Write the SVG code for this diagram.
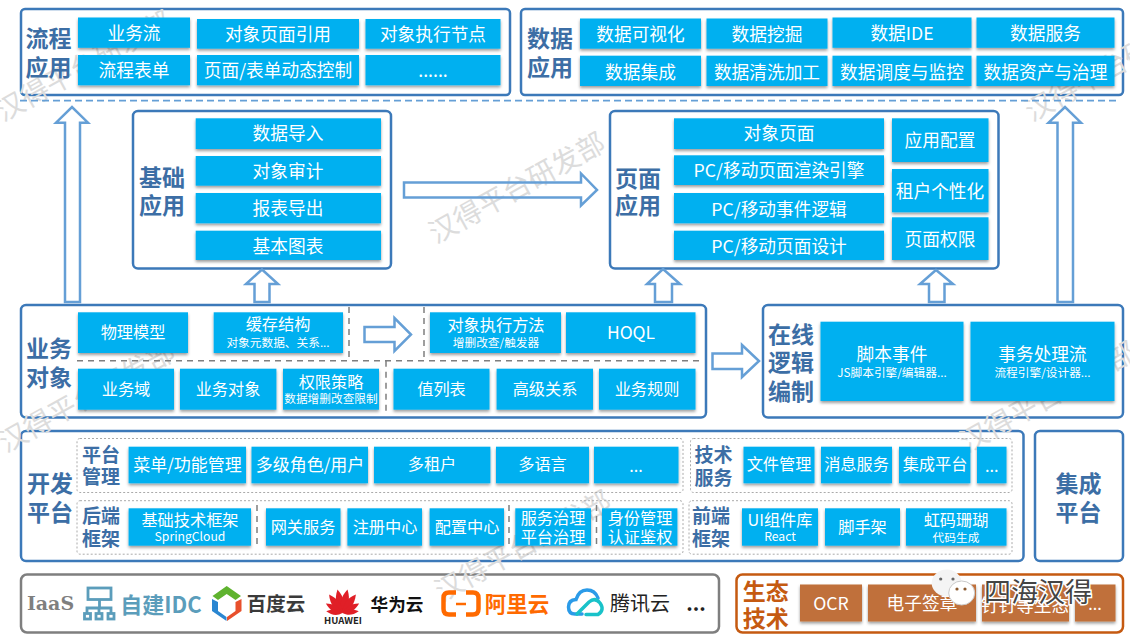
<svg xmlns="http://www.w3.org/2000/svg" xmlns:xlink="http://www.w3.org/1999/xlink" width="1130" height="640" viewBox="0 0 1130 640">
<defs>
<filter id="sh" x="-10%" y="-15%" width="120%" height="135%"><feDropShadow dx="0" dy="2" stdDeviation="1.6" flood-color="#000" flood-opacity="0.38"/></filter>
<path id="petal" d="M0 0C-5 -7 -5.500 -15 0 -24C5 -15 5 -7 0 0Z" fill="#e01f27"/>
</defs>
<style>
text{font-family:"Noto Sans CJK SC","Noto Sans",sans-serif;text-anchor:middle;dominant-baseline:central}
.p{fill:#fff;stroke:#3c79b9;stroke-width:2.5}
.b{fill:#00b0f0;filter:url(#sh)}
.o{fill:#c0703a;filter:url(#sh)}
.t,.m,.s,.l,.l2{transform:translateY(-1px)}
.t{fill:#fff;font-size:17.7px}
.m{fill:#fff;font-size:16.2px}
.s{fill:#fff;font-size:11.7px}
.la{font-size:12.2px}
.d{dominant-baseline:alphabetic}
.l{fill:#3c6ea5;font-size:23px;font-weight:700}
.l2{fill:#3c6ea5;font-size:19px;font-weight:700}
.a{fill:none;stroke:#659fd6;stroke-width:2.5}
.dash{fill:none;stroke:#7f7f7f;stroke-width:1.5;stroke-dasharray:6 5}
.sub{fill:none;stroke:#aaa;stroke-width:1;stroke-dasharray:2 2}
.wm{fill:#dcdcdc;font-size:28px}
</style>
<rect width="1130" height="640" fill="#fff"/>
<g id="panels">
<rect class="p" x="21" y="9" width="489" height="86" rx="4"/>
<rect class="p" x="521" y="9" width="602" height="86" rx="4"/>
<rect class="p" x="133" y="111" width="258" height="157.500" rx="5"/>
<rect class="p" x="610" y="111" width="388.500" height="157.500" rx="5"/>
<rect class="p" x="21" y="305" width="685" height="112.500" rx="5"/>
<rect class="p" x="763" y="305" width="360" height="112.500" rx="5"/>
<rect class="p" x="21" y="431" width="1002.500" height="130" rx="5"/>
<rect class="p" x="1035" y="431" width="88" height="130" rx="5"/>
<rect x="21" y="574.500" width="698" height="58" rx="6" fill="#fff" stroke="#7f7f7f" stroke-width="2.500"/>
<rect x="736.500" y="574.500" width="386.500" height="58" rx="6" fill="#fff" stroke="#c55a11" stroke-width="2.500"/>
</g>
<g id="watermarks">
<text class="wm" transform="translate(83 64) rotate(-29)">汉得平台研发部</text>
<text class="wm" transform="translate(516 186) rotate(-29)">汉得平台研发部</text>
<text class="wm" transform="translate(86 395) rotate(-29)">汉得平台研发部</text>
<text class="wm" transform="translate(522 544) rotate(-29)">汉得平台研发部</text>
<text class="wm" transform="translate(1047 395) rotate(-29)">汉得平台研发部</text>
<text class="wm" transform="translate(1112 64) rotate(-29)">汉得平台研发部</text>
</g>
<g id="connectors">
<line x1="20" y1="100.700" x2="1120" y2="100.700" fill="none" stroke="#659fd6" stroke-width="1.800" stroke-dasharray="7 4"/>
<path class="a" d="M65 302V122.700H56L72 107L88 122.700H80V302Z"/>
<path class="a" d="M254.500 302V284H246L262 269.500L278 284H269.500V302Z"/>
<path class="a" d="M655 302V284H647L663 269L680 284H672V302Z"/>
<path class="a" d="M929 302V284H920L936 270L953 284H944.500V302Z"/>
<path class="a" d="M1057.500 302V122.700H1048.500L1065 107L1081 122.700H1073V302Z"/>
<path class="a" d="M404 182.500H581V173.500L597 190L581 205.500V197.500H404Z"/>
<path class="a" d="M364.500 327H394.500V318L411 334.500L394.500 351V342H364.500Z"/>
<path class="a" d="M712.500 353.500H742V345L759 361L742 377V369H712.500Z"/>
<path class="dash" d="M77 360.700H703M349 307V360.700M424 307V360.700M386 360.700V413M257 505V548M509 505V548M596.500 505V548"/>
</g>
<g id="sub-frames">
<rect class="sub" x="77" y="438.500" width="606" height="54" rx="3"/>
<rect class="sub" x="77" y="500.700" width="606" height="53.500" rx="3"/>
<rect class="sub" x="690.500" y="438.500" width="321.500" height="54" rx="3"/>
<rect class="sub" x="689" y="500.700" width="323" height="53.500" rx="3"/>
</g>
<g id="flow-app">
<text class="l" x="48.500" y="38">流程</text><text class="l" x="48.500" y="67">应用</text>
<rect class="b" x="78" y="17.500" width="112" height="30.300"/><text class="t" x="134" y="33">业务流</text>
<rect class="b" x="197" y="19" width="162" height="29.700"/><text class="t" x="278" y="33.500">对象页面引用</text>
<rect class="b" x="365.500" y="19" width="135" height="29.700"/><text class="t" x="433" y="33.500">对象执行节点</text>
<rect class="b" x="78" y="55" width="112" height="30.300"/><text class="t" x="134" y="70">流程表单</text>
<rect class="b" x="197" y="55" width="162" height="30.300"/><text class="t" x="278" y="70">页面/表单动态控制</text>
<rect class="b" x="365.500" y="55" width="135" height="30.300"/><text class="t d" x="433" y="78">......</text>
</g>
<g id="data-app">
<text class="l" x="550" y="38">数据</text><text class="l" x="550" y="67">应用</text>
<rect class="b" x="580" y="18.500" width="121" height="30.200"/><text class="t" x="640.500" y="33.500">数据可视化</text>
<rect class="b" x="706.500" y="18.500" width="121" height="30.200"/><text class="t" x="767" y="33.500">数据挖掘</text>
<rect class="b" x="832.500" y="17.500" width="139" height="30.300"/><text class="t" x="902" y="33">数据IDE</text>
<rect class="b" x="976.500" y="17.500" width="138" height="30.300"/><text class="t" x="1045.500" y="33">数据服务</text>
<rect class="b" x="580" y="55.700" width="121" height="30.300"/><text class="t" x="640.500" y="71.500">数据集成</text>
<rect class="b" x="706.500" y="55.700" width="121" height="30.300"/><text class="t" x="767" y="71.500">数据清洗加工</text>
<rect class="b" x="832.500" y="55.700" width="139" height="30.300"/><text class="t" x="902" y="71.500">数据调度与监控</text>
<rect class="b" x="976.500" y="55.700" width="138" height="30.300"/><text class="t" x="1045.500" y="71.500">数据资产与治理</text>
</g>
<g id="base-app">
<text class="l" x="162" y="176.500">基础</text><text class="l" x="162" y="205">应用</text>
<rect class="b" x="195.700" y="118.300" width="185.300" height="30.700"/><text class="t" x="288" y="133.300">数据导入</text>
<rect class="b" x="195.700" y="156" width="185.300" height="29.700"/><text class="t" x="288" y="171">对象审计</text>
<rect class="b" x="195.700" y="193" width="185.300" height="30.300"/><text class="t" x="288" y="208">报表导出</text>
<rect class="b" x="195.700" y="230.700" width="185.300" height="29.300"/><text class="t" x="288" y="245.700">基本图表</text>
</g>
<g id="page-app">
<text class="l" x="638" y="178">页面</text><text class="l" x="638" y="205">应用</text>
<rect class="b" x="674" y="118.300" width="210" height="30.700"/><text class="t" x="779" y="133.300">对象页面</text>
<rect class="b" x="674" y="155.300" width="210" height="29.700"/><text class="t" x="779" y="170">PC/移动页面渲染引擎</text>
<rect class="b" x="674" y="193" width="210" height="30.300"/><text class="t" x="779" y="208.700">PC/移动事件逻辑</text>
<rect class="b" x="674" y="230.700" width="210" height="29.300"/><text class="t" x="779" y="245.700">PC/移动页面设计</text>
<rect class="b" x="892" y="118.300" width="96.500" height="43.700"/><text class="t" x="940" y="140">应用配置</text>
<rect class="b" x="892" y="169" width="96.500" height="43.300"/><text class="t" x="940" y="190.700">租户个性化</text>
<rect class="b" x="892" y="217.300" width="96.500" height="42.700"/><text class="t" x="940" y="239">页面权限</text>
</g>
<g id="business-object">
<text class="l" x="49" y="348">业务</text><text class="l" x="49" y="376.700">对象</text>
<rect class="b" x="78" y="312.300" width="110" height="40.700"/><text class="m" x="133" y="331.700">物理模型</text>
<rect class="b" x="213.700" y="312.300" width="129.300" height="40.700"/><text class="m" x="278" y="324.300">缓存结构</text><text class="s" x="278" y="342.300">对象元数据、关系...</text>
<rect class="b" x="430" y="312.300" width="131" height="40.700"/><text class="m" x="496" y="325">对象执行方法</text><text class="s" x="496" y="342">增删改查/触发器</text>
<rect class="b" x="566" y="312.300" width="129.500" height="40.700"/><text class="m" style="font-size:17.500px" x="631" y="332">HOQL</text>
<rect class="b" x="78" y="368.700" width="96" height="41"/><text class="m" x="126" y="388.700">业务域</text>
<rect class="b" x="180" y="368.700" width="96.400" height="41"/><text class="m" x="228" y="388.700">业务对象</text>
<rect class="b" x="283" y="368.700" width="96" height="41"/><text class="m" x="331" y="381.700">权限策略</text><text class="s" x="331" y="398.300">数据增删改查限制</text>
<rect class="b" x="393.500" y="368.700" width="96" height="41"/><text class="m" x="441.500" y="388.700">值列表</text>
<rect class="b" x="496.600" y="368.700" width="96.400" height="41"/><text class="m" x="545" y="388.700">高级关系</text>
<rect class="b" x="599" y="368.700" width="96.500" height="41"/><text class="m" x="647" y="388.700">业务规则</text>
</g>
<g id="online-logic">
<text class="l" x="791" y="334">在线</text><text class="l" x="791" y="362">逻辑</text><text class="l" x="791" y="390.700">编制</text>
<rect class="b" x="820.500" y="321.700" width="143" height="79.300"/><text class="t" x="892" y="354.300">脚本事件</text><text class="s" x="892" y="372">JS脚本引擎/编辑器...</text>
<rect class="b" x="970.500" y="321.700" width="144" height="79.300"/><text class="t" x="1042.500" y="354.300">事务处理流</text><text class="s" x="1042.500" y="372">流程引擎/设计器...</text>
</g>
<g id="dev-platform">
<text class="l" x="50" y="483">开发</text><text class="l" x="50" y="512">平台</text>
<text class="l2" x="101" y="454">平台</text><text class="l2" x="101" y="476.700">管理</text>
<text class="l2" x="101" y="515.700">后端</text><text class="l2" x="101" y="538">框架</text>
<text class="l2" x="713.500" y="454">技术</text><text class="l2" x="713.500" y="477">服务</text>
<text class="l2" x="711" y="515.700">前端</text><text class="l2" x="711" y="538">框架</text>
<rect class="b" x="128.600" y="446.700" width="117.400" height="36.600"/><text class="m" style="font-size:17px" x="187.500" y="464.300">菜单/功能管理</text>
<rect class="b" x="251.500" y="446.700" width="116.500" height="36.600"/><text class="m" style="font-size:17px" x="310" y="464.300">多级角色/用户</text>
<rect class="b" x="374" y="446.700" width="116.400" height="36.600"/><text class="m" x="432" y="464.300">多租户</text>
<rect class="b" x="496" y="446.700" width="93" height="36.600"/><text class="m" x="542.500" y="464.300">多语言</text>
<rect class="b" x="594" y="446.700" width="84.500" height="36.600"/><text class="m d" x="636" y="473">...</text>
<rect class="b" x="743.500" y="446.700" width="71" height="36.600"/><text class="m" x="779" y="464.300">文件管理</text>
<rect class="b" x="821" y="446.700" width="71" height="36.600"/><text class="m" x="856.500" y="464.300">消息服务</text>
<rect class="b" x="899" y="446.700" width="71.400" height="36.600"/><text class="m" x="935" y="464.300">集成平台</text>
<rect class="b" x="977" y="446.700" width="29.500" height="36.600"/><text class="m d" x="991.700" y="473">...</text>
<rect class="b" x="128.600" y="508.300" width="122.400" height="37.400"/><text class="m" x="190" y="520">基础技术框架</text><text class="s la" x="190" y="537.300">SpringCloud</text>
<rect class="b" x="266" y="508.300" width="74.500" height="37.400"/><text class="m" x="303" y="527">网关服务</text>
<rect class="b" x="347.400" y="508.300" width="74.600" height="37.400"/><text class="m" x="385" y="527">注册中心</text>
<rect class="b" x="429.600" y="508.300" width="74.400" height="37.400"/><text class="m" x="467" y="527">配置中心</text>
<rect class="b" x="515.300" y="508.300" width="75.700" height="37.400"/><text class="m" x="553" y="517.700">服务治理</text><text class="m" x="553" y="537.300">平台治理</text>
<rect class="b" x="602" y="508.300" width="75.400" height="37.400"/><text class="m" x="640" y="517.700">身份管理</text><text class="m" x="640" y="537.300">认证鉴权</text>
<rect class="b" x="742" y="508.300" width="76" height="37.400"/><text class="m" x="780" y="520">UI组件库</text><text class="s la" x="780" y="537.300">React</text>
<rect class="b" x="825" y="508.300" width="75" height="37.400"/><text class="m" x="862.500" y="527">脚手架</text>
<rect class="b" x="906" y="508.300" width="100.500" height="37.400"/><text class="m" x="956" y="520">虹码珊瑚</text><text class="s" x="956" y="537.300">代码生成</text>
</g>
<g id="integration-platform">
<text class="l" x="1078.500" y="483">集成</text><text class="l" x="1078.500" y="512">平台</text>
</g>
<g id="iaas">
<text x="50.500" y="602.500" fill="#7f7f7f" style="font-family:'DejaVu Serif',serif;font-size:19px;font-weight:700">IaaS</text>
<g fill="none" stroke="#5b9dbb" stroke-width="2.800"><rect x="88" y="588" width="23" height="11.500"/><path d="M99.500 599.500V608M87 613V608H111V613M99 608V613"/><rect x="84.500" y="613.500" width="6" height="5.500"/><rect x="96" y="613.500" width="6" height="5.500"/><rect x="108" y="613.500" width="6" height="5.500"/></g>
<text x="161" y="602.500" fill="#5b9dbb" style="font-size:22px;font-weight:700">自建IDC</text>
<path d="M226.700 586L241 596L235.500 600L226.700 594L218 600L212.500 596Z" fill="#5fb32f"/><path d="M212 599L218 602V611L226.500 617V621L212 611Z" fill="#2a86d1"/><path d="M241.500 599L235.500 602V611L227 617V621L241.500 611Z" fill="#e8502c"/>
<text x="276" y="602" fill="#3a3a3a" style="font-size:19.500px;font-weight:700">百度云</text>
<g>
<use xlink:href="#petal" href="#petal" transform="translate(342.500 613) rotate(-12)"/><use xlink:href="#petal" href="#petal" transform="translate(342.500 613) rotate(12)"/>
<use xlink:href="#petal" href="#petal" transform="translate(342.500 613) rotate(-36) scale(.95)"/><use xlink:href="#petal" href="#petal" transform="translate(342.500 613) rotate(36) scale(.95)"/>
<use xlink:href="#petal" href="#petal" transform="translate(342.500 613) rotate(-60) scale(.8)"/><use xlink:href="#petal" href="#petal" transform="translate(342.500 613) rotate(60) scale(.8)"/>
<use xlink:href="#petal" href="#petal" transform="translate(342.500 613) rotate(-84) scale(.68)"/><use xlink:href="#petal" href="#petal" transform="translate(342.500 613) rotate(84) scale(.68)"/>
</g>
<text x="343" y="619.500" fill="#222" style="font-size:9.500px;font-weight:700">HUAWEI</text>
<text x="397" y="603" fill="#111" style="font-size:17.600px;font-weight:700">华为云</text>
<path d="M456 592.500H449Q443.500 592.500 443.500 598V609Q443.500 614.500 449 614.500H456M466 592.500H473Q478.500 592.500 478.500 598V609Q478.500 614.500 473 614.500H466" fill="none" stroke="#ff6a00" stroke-width="4.500"/><line x1="456" y1="604" x2="466" y2="604" stroke="#ff6a00" stroke-width="2.500"/>
<text x="517" y="602" fill="#ff6a00" style="font-size:21.500px;font-weight:700">阿里云</text>
<g fill="none" stroke-width="3.500" stroke-linecap="round"><path d="M582 614H575Q568.500 614 568.500 607Q568.500 600 576 599.500Q579 590 587 590Q595 590 598 598" stroke="#2b9be8"/><path d="M577 614L589 602Q595 597 600 603Q605 610 598 614.500H586" stroke="#19c2c9"/></g>
<text x="640" y="602.500" fill="#222" style="font-size:20px">腾讯云</text>
<text class="d" x="696" y="611" fill="#222" style="font-size:20px;font-weight:700">...</text>
</g>
<g id="eco-tech">
<text x="765.700" y="589.700" fill="#c55a11" style="font-size:23px;font-weight:700">生态</text><text x="765.700" y="617" fill="#c55a11" style="font-size:23px;font-weight:700">技术</text>
<rect class="o" x="800" y="584.500" width="62" height="37"/><text class="t" x="831" y="603">OCR</text>
<rect class="o" x="868" y="584.500" width="108" height="37"/><text class="t" x="922" y="603">电子签章</text>
<rect class="o" x="982" y="584.500" width="87" height="37"/><text class="t" x="1025" y="605">钉钉等生态</text>
<rect class="o" x="1075" y="584.500" width="40.500" height="37"/><text class="m d" x="1095" y="611">...</text>
</g>
<g id="wechat-mark">
<ellipse cx="946.700" cy="583" rx="15" ry="13.500" fill="#f4f4f4"/><circle cx="940.700" cy="579" r="1.600" fill="#666"/><circle cx="953" cy="579" r="1.600" fill="#666"/>
<ellipse cx="961.700" cy="593" rx="13" ry="12" fill="#fff" stroke="#c9c9c9"/><circle cx="957" cy="589" r="1.600" fill="#8a5a30"/><circle cx="965" cy="589" r="1.600" fill="#8a5a30"/>
<text x="1038" y="590" fill="#444" stroke="#fff" stroke-width="3" paint-order="stroke" style="font-size:27px">四海汉得</text>
</g>
</svg>
